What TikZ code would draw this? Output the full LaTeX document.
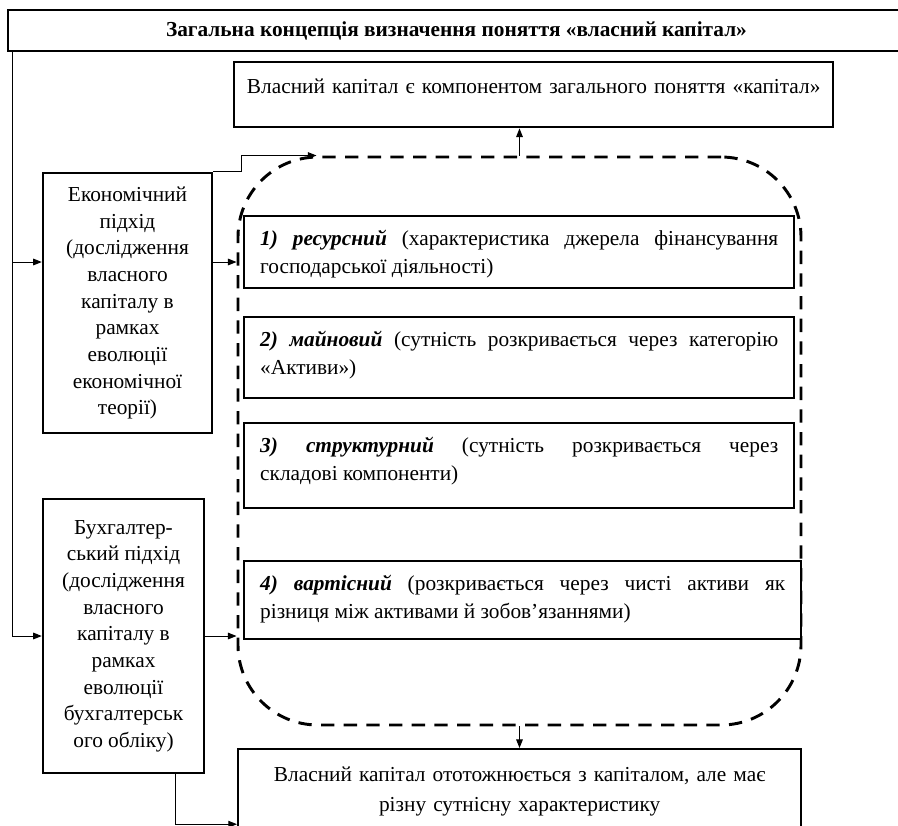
\documentclass[tikz,border=0pt]{standalone}
\usepackage{fontspec}
\setmainfont{Liberation Serif}
\usetikzlibrary{arrows.meta}
\tikzset{
  titlebox/.style={draw, line width=1.8pt, inner sep=0pt,
    font=\bfseries\fontsize{16pt}{19pt}\selectfont},
  resbox/.style={draw, line width=1.8pt, anchor=north west, align=center,
    inner xsep=2pt, text height=10pt, font=\fontsize{16pt}{20pt}\selectfont},
  catbox/.style={draw, fill=white, line width=1.8pt, anchor=north west, align=justify,
    inner xsep=12pt, inner ysep=11.75pt, text height=10pt,
    font=\fontsize{16pt}{21pt}\selectfont},
  sidebox/.style={draw, line width=1.8pt, align=center, inner sep=2pt,
    font=\fontsize{16pt}{20pt}\selectfont},
  groupbox/.style={draw, line width=2.2pt, dash pattern=on 10pt off 7pt,
    rounded corners=60pt, inner sep=0pt},
  link/.style={line width=0.75pt, -{Triangle[length=6.5pt,width=5pt]}}
}

\begin{document}
\begin{tikzpicture}[x=0.75pt,y=-0.75pt]
  \useasboundingbox (0,0) rectangle (898,825);
  \node[titlebox, minimum width=672.75pt, minimum height=30.75pt] (title) at (456.5,30.5)
    {Загальна концепція визначення поняття «власний капітал»};
  \node[resbox, text width=445.25pt, inner ysep=13.25pt, text depth=12.25pt] (topres) at (233,61)
    {Власний капітал є компонентом загального поняття «капітал»};
  \node[groupbox, minimum width=422.25pt, minimum height=426pt] (grp) at (519.5,441) {};
  % approaches inside the dashed frame
  \node[catbox, text width=388.5pt, text depth=20.5pt] (resurs) at (243,215)
    {\textbf{\textit{1) ресурсний}} (характеристика джерела фінансування\linebreak господарської діяльності)};
  \node[catbox, text width=388.5pt, text depth=27.25pt] (mayno) at (243,316)
    {\textbf{\textit{2) майновий}} (сутність розкривається через категорію\linebreak «Активи»)};
  \node[catbox, text width=388.5pt, text depth=30.25pt] (struct) at (243,422)
    {\textbf{\textit{3) структурний}} (сутність розкривається через\linebreak складові компоненти)};
  \node[catbox, text width=393.75pt, text depth=25pt] (vart) at (243,560)
    {\textbf{\textit{4) вартісний}} (розкривається через чисті активи як\linebreak різниця між активами й зобов’язаннями)};
  \node[sidebox, minimum width=126.75pt, minimum height=195pt] (econ) at (127.5,303)
    {Економічний\\підхід\\(дослідження\\власного\\капіталу в\\рамках\\еволюції\\економічної\\теорії)};
  \node[sidebox, minimum width=120.75pt, minimum height=205.5pt] (acc) at (123.5,636)
    {Бухгалтер-\\ський підхід\\(дослідження\\власного\\капіталу в\\рамках\\еволюції\\бухгалтерськ\\ого обліку)};
  \node[resbox, text width=418.25pt, inner ysep=14pt, text depth=74.5pt,
    font=\fontsize{16pt}{22.5pt}\selectfont] (botres) at (237,748)
    {Власний капітал ототожнюється з капіталом, але має\\різну сутнісну характеристику};
  % connectors
  \coordinate (trunk) at (12,51);
  \coordinate (econin) at ([yshift=30.75pt]econ.west);
  \coordinate (econout) at ([yshift=30.75pt]econ.east);
  \draw[link] (trunk) |- (acc.west);
  \draw[link] (trunk |- econin) -- (econin);
  \draw[link] (econout) -- (econout -| grp.west);
  \draw[link] (econ.north east) -- ++(21pt,0) |- ([xshift=60pt]grp.north west);
  \draw[link] (acc.east) -- (acc.east -| grp.west);
  \draw[link] (grp.north) -- (grp.north |- topres.south);
  \draw[link] (grp.south) -- (grp.south |- botres.north);
  \draw[link] ([xshift=-22.5pt]acc.south east) |- (botres.west);
\end{tikzpicture}
\end{document}
